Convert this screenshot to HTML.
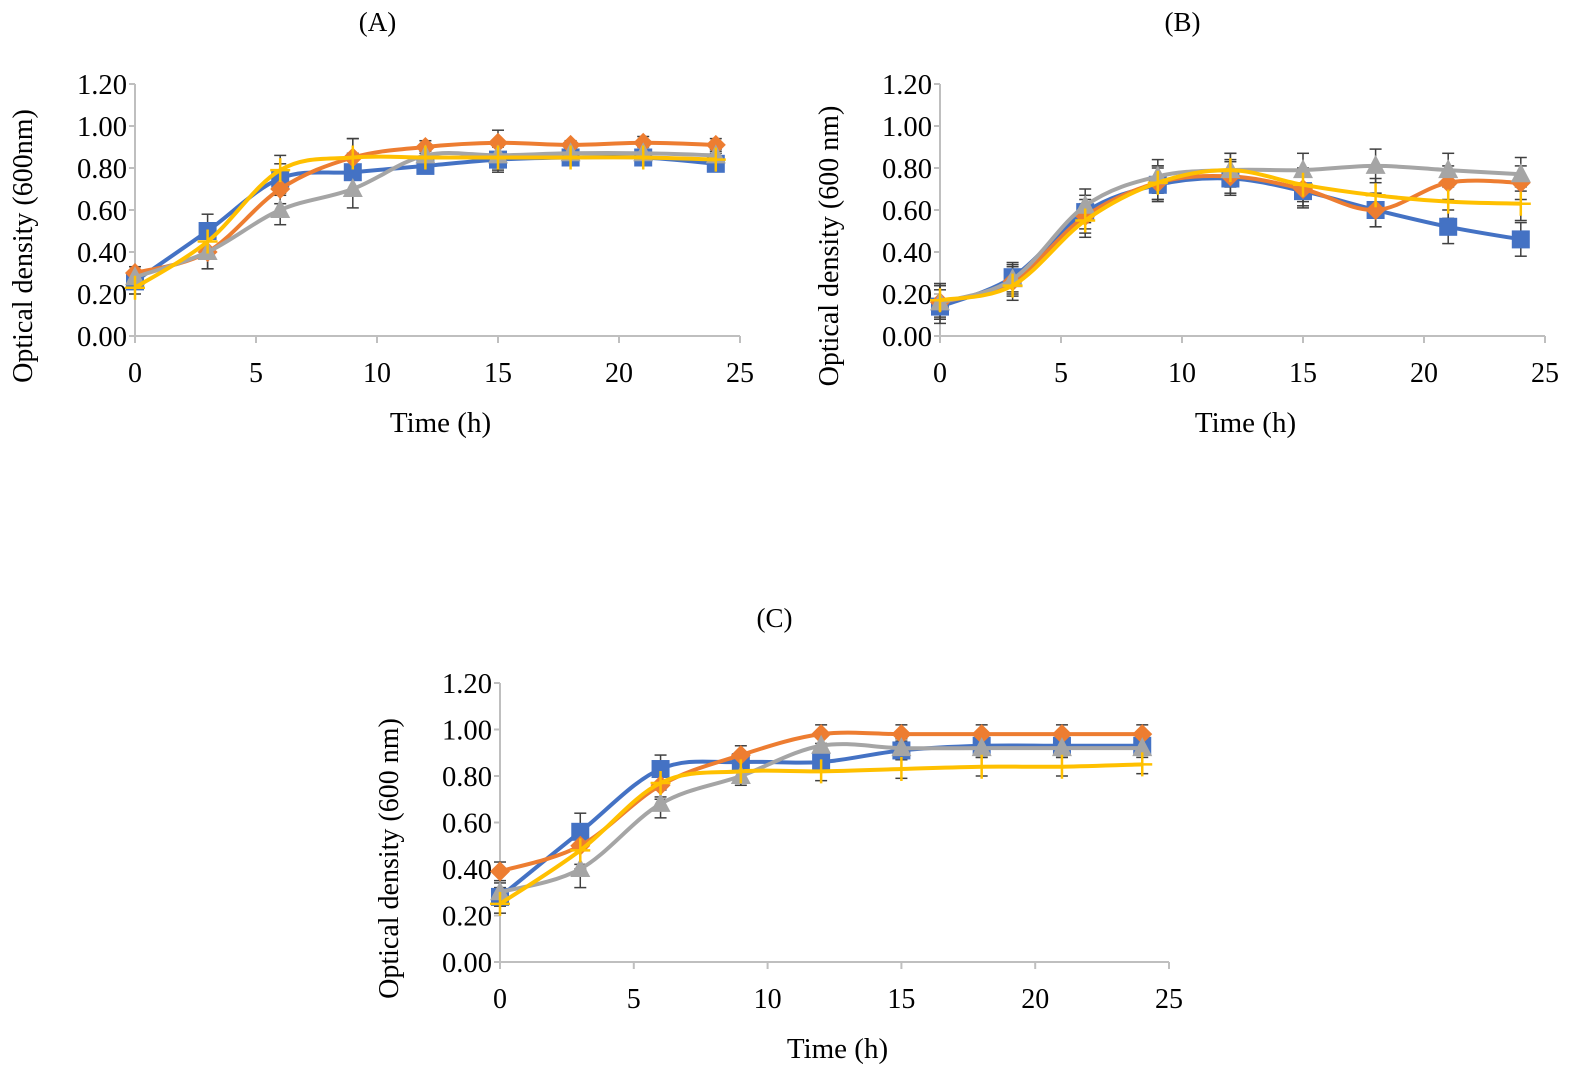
<!DOCTYPE html>
<html><head><meta charset="utf-8"><style>
html,body{margin:0;padding:0;background:#fff;}
svg{display:block;font-family:"Liberation Serif",serif;}
</style></head><body>
<svg id="fig" width="1576" height="1077" viewBox="0 0 1576 1077"></svg>
<script>
const times = [0,3,6,9,12,15,18,21,24];
const xTicks = [0,5,10,15,20,25];
const yTicks = [0,0.2,0.4,0.6,0.8,1.0,1.2];
const yTickLabels = ["0.00","0.20","0.40","0.60","0.80","1.00","1.20"];
const seriesColors = ["#4472C4","#ED7D31","#A5A5A5","#FFC000"];
const seriesMarkers = ["square","diamond","triangle","plus"];

const aBlue = [0.26,0.50,0.75,0.78,0.81,0.84,0.85,0.85,0.82];
const aOrange = [0.30,0.40,0.70,0.85,0.90,0.92,0.91,0.92,0.91];
const aGray = [0.28,0.40,0.60,0.70,0.86,0.86,0.87,0.87,0.86];
const aYellow = [0.23,0.45,0.79,0.85,0.85,0.85,0.85,0.85,0.84];
const aErr = [0.03,0.08,0.07,0.09,0.03,0.06,0.02,0.03,0.03];

const bBlue = [0.14,0.28,0.59,0.72,0.75,0.69,0.60,0.52,0.46];
const bOrange = [0.16,0.26,0.57,0.73,0.76,0.70,0.60,0.73,0.73];
const bGray = [0.16,0.27,0.62,0.76,0.79,0.79,0.81,0.79,0.77];
const bYellow = [0.17,0.24,0.55,0.73,0.79,0.72,0.67,0.64,0.63];
const bErr = [0.08,0.07,0.08,0.08,0.08,0.08,0.08,0.08,0.08];

const cBlue = [0.28,0.56,0.83,0.86,0.86,0.91,0.93,0.93,0.93];
const cOrange = [0.39,0.50,0.76,0.89,0.98,0.98,0.98,0.98,0.98];
const cGray = [0.30,0.40,0.68,0.80,0.93,0.92,0.92,0.92,0.92];
const cYellow = [0.25,0.48,0.77,0.82,0.82,0.83,0.84,0.84,0.85];
const cErr = [0.04,0.08,0.06,0.04,0.04,0.04,0.04,0.04,0.04];

const NS = "http://www.w3.org/2000/svg";
const svg = document.getElementById("fig");
function mk(tag, attrs, parent){
  const e = document.createElementNS(NS, tag);
  for (const k in attrs) e.setAttribute(k, attrs[k]);
  (parent||svg).appendChild(e);
  return e;
}
function smoothPath(pts){
  let d = "M"+pts[0][0]+","+pts[0][1];
  for (let i=0;i<pts.length-1;i++){
    const p0 = pts[Math.max(i-1,0)], p1 = pts[i], p2 = pts[i+1], p3 = pts[Math.min(i+2,pts.length-1)];
    const t = 0.17;
    const c1x = p1[0]+(p2[0]-p0[0])*t, c1y = p1[1]+(p2[1]-p0[1])*t;
    const c2x = p2[0]-(p3[0]-p1[0])*t, c2y = p2[1]-(p3[1]-p1[1])*t;
    d += " C"+c1x+","+c1y+" "+c2x+","+c2y+" "+p2[0]+","+p2[1];
  }
  return d;
}
function chart(id, title, yLabel, box, series, errSeriesIdx, err){
  const g = mk("g", {});
  
  
  const x = v => box.x0 + (v/25)*(box.x1-box.x0);
  const y = v => box.y0 - (v/1.2)*(box.y0-box.y1);
  const t = mk("text", {x:(box.x0+box.x1)/2 - 60, y:box.titleY, "font-size":27, "text-anchor":"middle", fill:"#000"}, g);
  
  
  t.textContent = title;
  const ax = mk("g", {}, g);
  
  
  mk("line", {x1:box.x0, y1:y(1.2), x2:box.x0, y2:box.y0, stroke:"#BFBFBF", "stroke-width":2}, ax);
  mk("line", {x1:box.x0-6, y1:box.y0, x2:box.x1, y2:box.y0, stroke:"#BFBFBF", "stroke-width":2}, ax);
  yTicks.forEach((v,i)=>{
    mk("line", {x1:box.x0-6, y1:y(v), x2:box.x0, y2:y(v), stroke:"#BFBFBF", "stroke-width":2}, ax);
    const tl = mk("text", {x:box.x0-8, y:y(v)+10, "font-size":28, "text-anchor":"end", fill:"#000", textLength:50, lengthAdjust:"spacingAndGlyphs"}, ax);
    
    
    tl.textContent = yTickLabels[i];
  });
  xTicks.forEach(v=>{
    mk("line", {x1:x(v), y1:box.y0, x2:x(v), y2:box.y0+7, stroke:"#BFBFBF", "stroke-width":2}, ax);
    const tl = mk("text", {x:x(v), y:box.y0+46, "font-size":28, "text-anchor":"middle", fill:"#000"}, ax);
    
    
    tl.textContent = v;
  });
  const xt = mk("text", {x:(box.x0+box.x1)/2+3, y:box.y0+96, "font-size":29, "text-anchor":"middle", fill:"#000"}, ax);
  
  
  xt.textContent = "Time (h)";
  const cy = (box.y0 + y(1.2))/2 + 36;
  const yt = mk("text", {x:box.ylx, y:cy, "font-size":28, "text-anchor":"middle", fill:"#000", transform:"rotate(-90 "+box.ylx+" "+cy+")"}, ax);
  
  
  yt.textContent = yLabel;
  const eg = mk("g", {}, g);
  
  
  series.forEach((s,si)=>{
    s.forEach((v,i)=>{
      const e = err[i];
      mk("line", {x1:x(times[i]), y1:y(v+e), x2:x(times[i]), y2:y(v-e), stroke:"#404040", "stroke-width":1.5}, eg);
      mk("line", {x1:x(times[i])-6, y1:y(v+e), x2:x(times[i])+6, y2:y(v+e), stroke:"#404040", "stroke-width":1.5}, eg);
      mk("line", {x1:x(times[i])-6, y1:y(v-e), x2:x(times[i])+6, y2:y(v-e), stroke:"#404040", "stroke-width":1.5}, eg);
    });
  });
  series.forEach((s,si)=>{
    const sg = mk("g", {}, g);
    
    
    const c = seriesColors[si];
    const pts = s.map((v,i)=>[x(times[i]), y(v)]);
    mk("path", {d:smoothPath(pts), fill:"none", stroke:c, "stroke-width":4}, sg);
    pts.forEach(p=>{
      const [px,py] = p;
      let m;
      if (seriesMarkers[si]==="square") m = mk("rect", {x:px-9, y:py-9, width:18, height:18, fill:c}, sg);
      else if (seriesMarkers[si]==="diamond") m = mk("polygon", {points:(px)+","+(py-10)+" "+(px+10)+","+py+" "+px+","+(py+10)+" "+(px-10)+","+py, fill:c}, sg);
      else if (seriesMarkers[si]==="triangle") m = mk("polygon", {points:px+","+(py-11)+" "+(px+10)+","+(py+8)+" "+(px-10)+","+(py+8), fill:c}, sg);
      else m = mk("path", {d:"M"+(px-10)+","+py+" H"+(px+10)+" M"+px+","+(py-12)+" V"+(py+12), stroke:c, "stroke-width":2.5}, sg);
      
      
    });
  });
}
chart("a","(A)","Optical density (600nm)",{x0:135,x1:740,y0:336,y1:84,titleY:31,ylx:32},[aBlue,aOrange,aGray,aYellow],2,aErr);
chart("b","(B)","Optical density (600 nm)",{x0:940,x1:1545,y0:336,y1:84,titleY:31,ylx:838},[bBlue,bOrange,bGray,bYellow],2,bErr);
chart("c","(C)","Optical density (600 nm)",{x0:500,x1:1169,y0:962,y1:683,titleY:627,ylx:398},[cBlue,cOrange,cGray,cYellow],2,cErr);
</script>
</body></html>
